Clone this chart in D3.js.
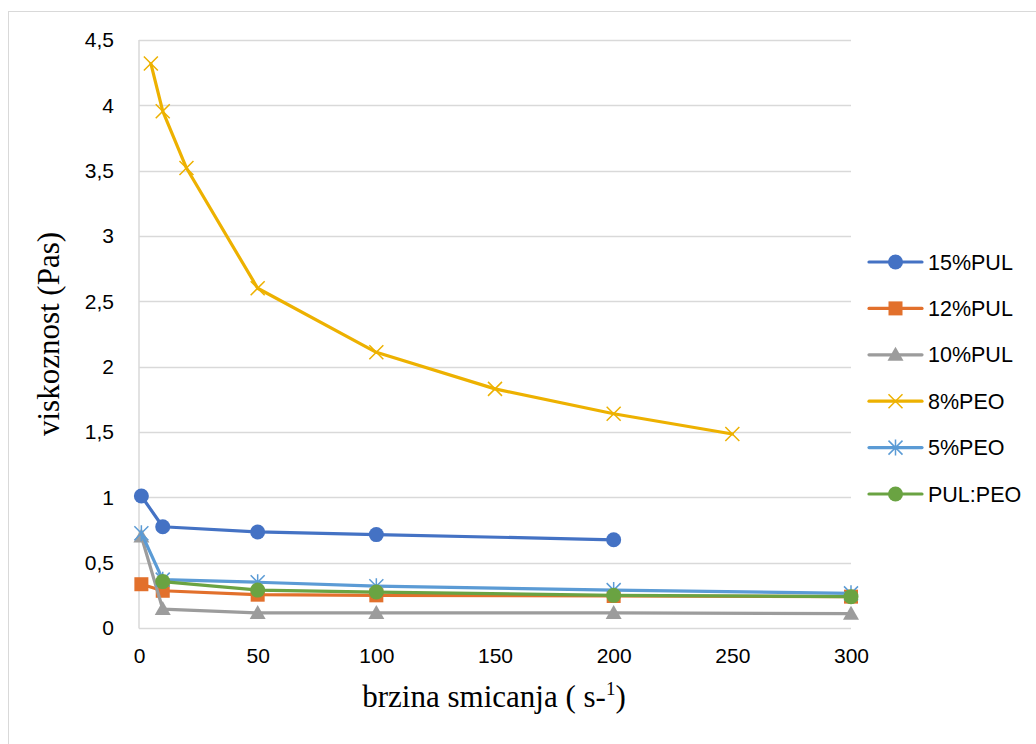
<!DOCTYPE html>
<html><head><meta charset="utf-8">
<script src="https://cdn.jsdelivr.net/npm/d3@7"></script>
<style>body{margin:0;background:#fff}svg{display:block}</style>
</head><body>
<svg id="c" width="1036" height="744"></svg>
<script>
const seriesNames = ["15%PUL","12%PUL","10%PUL","8%PEO","5%PEO","PUL:PEO"];
const seriesColors = ["#4472C4","#E2702C","#9C9C9C","#EDB100","#5B9BD5","#6AA342"];
const seriesMarkers = ["circle","square","triangle","x","star","circle"];
const x15 = [1,10,50,100,200];
const y15 = [1.01,0.775,0.735,0.715,0.675];
const x12 = [1,10,50,100,200,300];
const y12 = [0.335,0.285,0.255,0.25,0.245,0.24];
const x10 = [1,10,50,100,200,300];
const y10 = [0.70,0.145,0.115,0.115,0.115,0.11];
const x8 = [5,10,20,50,100,150,200,250];
const y8 = [4.32,3.955,3.52,2.60,2.11,1.83,1.64,1.485];
const x5 = [1,10,50,100,200,300];
const y5 = [0.725,0.37,0.35,0.32,0.29,0.265];
const xPP = [10,50,100,200,300];
const yPP = [0.355,0.29,0.275,0.25,0.24];
const xTicks = [0,50,100,150,200,250,300];
const yTicks = [0,0.5,1,1.5,2,2.5,3,3.5,4,4.5];
const xTitle = "brzina smicanja ( s-";
const xTitleSup = "1";
const yTitle = "viskoznost (Pas)";

const seriesX = [x15,x12,x10,x8,x5,xPP];
const seriesY = [y15,y12,y10,y8,y5,yPP];

const svg = d3.select("#c");
const L=139,R=851,T=40,B=628;
const x = d3.scaleLinear().domain([0,300]).range([L,R]);
const y = d3.scaleLinear().domain([0,4.5]).range([B,T]);
const fmt = d => String(d).replace(".", ",");

// outer border
svg.append("rect").attr("x",8.5).attr("y",11.5).attr("width",1040).attr("height",750)
  .attr("fill","none").attr("stroke","#D9D9D9").attr("stroke-width",1);

// gridlines
svg.append("g").selectAll("line").data(yTicks).join("line")
  .attr("x1",L).attr("x2",R).attr("y1",d=>Math.round(y(d))+0.5).attr("y2",d=>Math.round(y(d))+0.5)
  .attr("stroke","#D9D9D9").attr("stroke-width",1.5);
svg.append("line").attr("x1",L).attr("x2",L).attr("y1",T).attr("y2",B+0.5)
  .attr("stroke","#D9D9D9").attr("stroke-width",1.5);

// axes
const yAxis = svg.append("g").attr("transform",`translate(${L-22},0)`)
  .call(d3.axisLeft(y).tickValues(yTicks).tickFormat(fmt).tickSize(0));
yAxis.select(".domain").remove();
yAxis.selectAll("text").attr("font-family","Liberation Sans, Arial, sans-serif")
  .attr("font-size",21).attr("fill","#000").attr("dx",0);
const xAxis = svg.append("g").attr("transform",`translate(0,${B+17})`)
  .call(d3.axisBottom(x).tickValues(xTicks).tickFormat(fmt).tickSize(0));
xAxis.select(".domain").remove();
xAxis.selectAll("text").attr("font-family","Liberation Sans, Arial, sans-serif")
  .attr("font-size",21).attr("fill","#000");

// titles
const xt = svg.append("text").attr("x",494).attr("y",707).attr("text-anchor","middle")
  .attr("font-family","Liberation Serif, Times New Roman, serif").attr("font-size",31).attr("fill","#000");
xt.append("tspan").text(xTitle);
xt.append("tspan").text(xTitleSup).attr("font-size",19).attr("dy",-12);
xt.append("tspan").text(")").attr("dy",12);
svg.append("text").attr("transform",`translate(59,${(T+B)/2}) rotate(-90)`).attr("text-anchor","middle")
  .attr("font-family","Liberation Serif, Times New Roman, serif").attr("font-size",31).attr("fill","#000")
  .text(yTitle);

function marker(g, type, color, cx, cy){
  if(type==="circle"){
    g.append("circle").attr("cx",cx).attr("cy",cy).attr("r",7.5).attr("fill",color);
  } else if(type==="square"){
    g.append("rect").attr("x",cx-7).attr("y",cy-7).attr("width",14).attr("height",14).attr("fill",color);
  } else if(type==="triangle"){
    g.append("path").attr("d",`M${cx},${cy-8}L${cx+8},${cy+6}L${cx-8},${cy+6}Z`).attr("fill",color);
  } else if(type==="x"){
    const s=7;
    g.append("path").attr("d",`M${cx-s},${cy-s}L${cx+s},${cy+s}M${cx-s},${cy+s}L${cx+s},${cy-s}`)
      .attr("stroke",color).attr("stroke-width",1.5).attr("fill","none");
  } else if(type==="star"){
    const s=7;
    g.append("path").attr("d",`M${cx-s},${cy-s}L${cx+s},${cy+s}M${cx-s},${cy+s}L${cx+s},${cy-s}M${cx},${cy-s-1}L${cx},${cy+s+1}`)
      .attr("stroke",color).attr("stroke-width",1.5).attr("fill","none");
  }
}

const line = d3.line().x(d=>x(d[0])).y(d=>y(d[1])).curve(d3.curveLinear);
seriesNames.forEach((name,i)=>{
  const pts = seriesX[i].map((xv,j)=>[xv,seriesY[i][j]]);
  const g = svg.append("g");
  g.append("path").attr("d",line(pts)).attr("fill","none").attr("stroke",seriesColors[i])
    .attr("stroke-width",3.2).attr("stroke-linejoin","round").attr("stroke-linecap","round");
  pts.forEach(p=>marker(g, seriesMarkers[i], seriesColors[i], x(p[0]), y(p[1])));
});

// legend
const lg = svg.append("g");
seriesNames.forEach((name,i)=>{
  const cy = 262 + i*46.4;
  lg.append("line").attr("x1",869).attr("x2",922).attr("y1",cy).attr("y2",cy)
    .attr("stroke",seriesColors[i]).attr("stroke-width",3.2).attr("stroke-linecap","round");
  marker(lg, seriesMarkers[i], seriesColors[i], 895.5, cy);
  lg.append("text").attr("x",928).attr("y",cy+7.5).attr("font-family","Liberation Sans, Arial, sans-serif")
    .attr("font-size",21.5).attr("fill","#000").text(name);
});
</script>
</body></html>
